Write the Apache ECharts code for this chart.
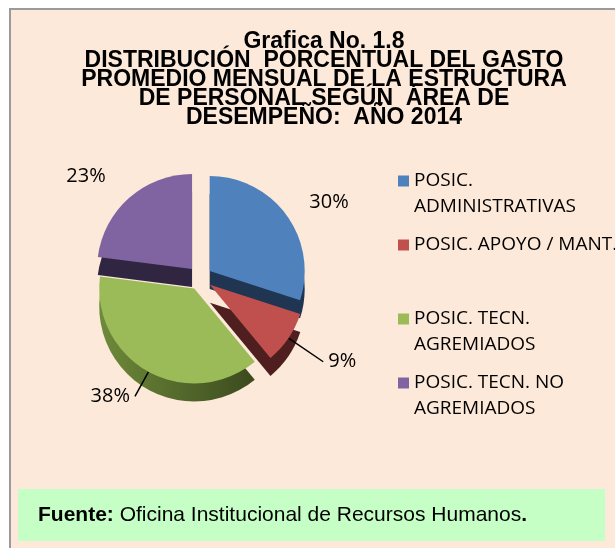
<!DOCTYPE html>
<html>
<head>
<meta charset="utf-8">
<script src="https://cdn.jsdelivr.net/npm/echarts@6/dist/echarts.min.js"></script>
<style>
  html, body { margin: 0; padding: 0; background: #fff; }
  #main { width: 615px; height: 548px; }
</style>
</head>
<body>
<div id="main"></div>
<script>
// datos de la grafica
var categorias = ['POSIC. ADMINISTRATIVAS', 'POSIC. APOYO / MANT.', 'POSIC. TECN. AGREMIADOS', 'POSIC. TECN. NO AGREMIADOS'];
var leyendaTexto = ['POSIC.\nADMINISTRATIVAS', 'POSIC. APOYO / MANT.\n ', 'POSIC. TECN.\nAGREMIADOS', 'POSIC. TECN. NO\nAGREMIADOS'];
var porcentajes = [30, 9, 38, 23];
var colores = ['#4F81BD', '#C0504D', '#9BBB59', '#8064A2'];
var coloresLado = ['#1F3552', '#4E1F1E', '#4A5E26', '#302641'];
var lineas = [false, true, true, false];
var largoLinea = [22, 42, 28, 28];

var titulo = 'Grafica No. 1.8\nDISTRIBUCIÓN  PORCENTUAL DEL GASTO\nPROMEDIO MENSUAL DE LA ESTRUCTURA\nDE PERSONAL SEGÚN  ÁREA DE\nDESEMPEÑO:  AÑO 2014';

var centro = [200, 278];
var radio = 95;

var datosTop = [];
var datosLado = [];
for (var i = 0; i < categorias.length; i++) {
  datosTop.push({
    name: categorias[i],
    value: porcentajes[i],
    selected: true,
    itemStyle: { color: colores[i] },
    labelLine: { show: lineas[i], length: largoLinea[i] }
  });
  datosLado.push({
    name: categorias[i],
    value: porcentajes[i],
    selected: true,
    itemStyle: { color: coloresLado[i] }
  });
}
// lado del verde con degradado como en el original
datosLado[2].itemStyle.color = new echarts.graphic.LinearGradient(0, 0, 1, 0, [
  { offset: 0, color: '#6E8A3A' },
  { offset: 1, color: '#3B4A1E' }
]);

function leyenda(nombre) {
  return leyendaTexto[categorias.indexOf(nombre)];
}

var iconoLeyenda = 'path://M0,0M0,52M0,7.5L11,7.5L11,18.5L0,18.5Z';
var estiloLeyenda = { fontFamily: 'Open Sans', fontSize: 19, lineHeight: 26, color: '#000' };

var myChart = echarts.init(document.getElementById('main'));

var option = {
  backgroundColor: '#fff',
  animation: false,
  title: {
    text: titulo,
    left: 319,
    top: 27,
    textAlign: 'center',
    textStyle: {
      fontFamily: 'Liberation Sans',
      fontWeight: 'bold',
      fontSize: 23,
      lineHeight: 19,
      color: '#000'
    }
  },
  graphic: [
    { // fondo del area del grafico
      type: 'rect', z: -10,
      shape: { x: 10, y: 9, width: 640, height: 580 },
      style: { fill: '#FDE9D9', stroke: '#9A9A9A', lineWidth: 2 }
    },
    { // recuadro de la fuente
      type: 'rect', z: -5,
      shape: { x: 18, y: 489, width: 587, height: 52 },
      style: { fill: '#C6FFC6' }
    },
    {
      type: 'text', z: -4,
      x: 38, y: 515,
      style: {
        text: '{b|Fuente:} Oficina Institucional de Recursos Humanos{b|.}',
        verticalAlign: 'middle',
        font: '21px "Liberation Sans"',
        fill: '#000',
        rich: {
          b: { fontWeight: 'bold', fontSize: 21, fontFamily: 'Liberation Sans' }
        }
      }
    }
  ],
  legend: [
    {
      data: categorias.slice(0, 2),
      orient: 'vertical', left: 398, top: 168, padding: 0,
      itemGap: 12, itemWidth: 11, itemHeight: 52,
      icon: iconoLeyenda,
      selectedMode: false,
      formatter: leyenda,
      textStyle: estiloLeyenda
    },
    {
      data: categorias.slice(2),
      orient: 'vertical', left: 398, top: 306, padding: 0,
      itemGap: 12, itemWidth: 11, itemHeight: 52,
      icon: iconoLeyenda,
      selectedMode: false,
      formatter: leyenda,
      textStyle: estiloLeyenda
    }
  ],
  series: [
    {
      name: 'Gasto',
      type: 'pie',
      z: 3,
      center: centro,
      radius: radio,
      startAngle: 90,
      selectedMode: 'multiple',
      selectedOffset: 12,
      label: {
        formatter: '{c}%',
        fontFamily: 'Open Sans',
        fontSize: 20,
        color: '#000'
      },
      labelLine: {
        length: 28,
        length2: 0,
        lineStyle: { color: '#000', width: 1.5 }
      },
      emphasis: { disabled: true },
      data: datosTop
    },
    {
      name: 'Lado',
      type: 'pie',
      z: 2,
      silent: true,
      center: [centro[0], centro[1] + 18],
      radius: radio,
      startAngle: 90,
      selectedMode: 'multiple',
      selectedOffset: 12,
      label: { show: false },
      labelLine: { show: false },
      emphasis: { disabled: true },
      data: datosLado
    }
  ]
};

myChart.setOption(option);
</script>
</body>
</html>
